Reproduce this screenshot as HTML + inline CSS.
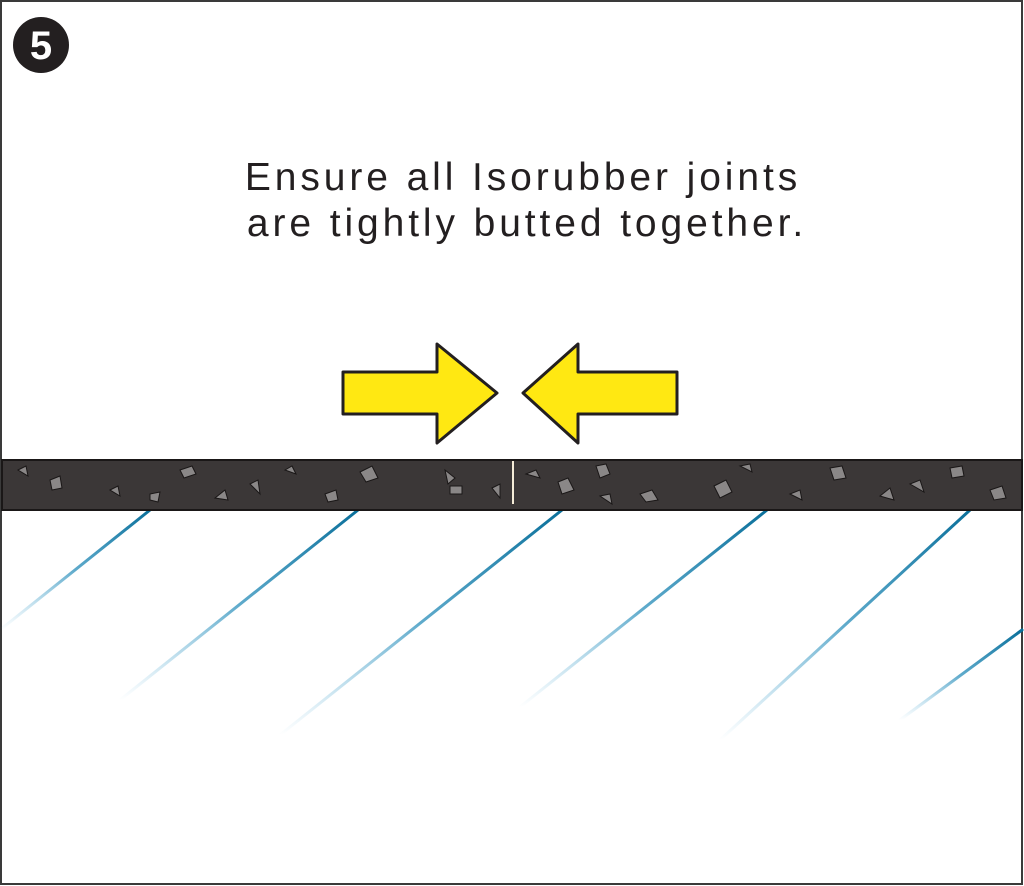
<!DOCTYPE html>
<html><head><meta charset="utf-8"><style>
html,body{margin:0;padding:0;background:#fff}
svg{display:block}
</style></head><body>
<svg width="1024" height="886" viewBox="0 0 1024 886" xmlns="http://www.w3.org/2000/svg">
<defs>
<linearGradient id="g" x1="0" y1="0" x2="0" y2="1">
<stop offset="0" stop-color="#0a6f9a" stop-opacity="1"/>
<stop offset="0.5" stop-color="#1a86b5" stop-opacity="0.7"/>
<stop offset="1" stop-color="#5ab0d8" stop-opacity="0"/>
</linearGradient>
</defs>
<rect x="0" y="0" width="1024" height="886" fill="#fff"/>
<rect x="1" y="1" width="1021" height="883" fill="none" stroke="#3a3a3a" stroke-width="2"/>
<circle cx="41" cy="45" r="28" fill="#231f20"/>
<text x="41" y="59" font-family="Liberation Sans, sans-serif" font-weight="bold" font-size="40" fill="#fff" text-anchor="middle">5</text>
<text x="523" y="190" font-family="Liberation Sans, sans-serif" font-size="39" fill="#231f20" text-anchor="middle" letter-spacing="3.9">Ensure all Isorubber joints</text>
<text x="527" y="236" font-family="Liberation Sans, sans-serif" font-size="39" fill="#231f20" text-anchor="middle" letter-spacing="3.9">are tightly butted together.</text>
<polygon points="343,372 437,372 437,344 497,393 437,443 437,414 343,414" fill="#ffe812" stroke="#231f20" stroke-width="3" stroke-linejoin="round"/>
<polygon points="677,372 578,372 578,344 523,393 578,443 578,414 677,414" fill="#ffe812" stroke="#231f20" stroke-width="3" stroke-linejoin="round"/>
<g stroke-width="3" fill="none" stroke-linecap="round">
<path d="M150 510 L0 630" stroke="url(#g)"/>
<path d="M358 510 L120 700" stroke="url(#g)"/>
<path d="M562 510 L280 735" stroke="url(#g)"/>
<path d="M767 510 L520 707" stroke="url(#g)"/>
<path d="M970 510 L720 740" stroke="url(#g)"/>
<path d="M1022 630 L900 720" stroke="url(#g)"/>
</g>
<rect x="2" y="460" width="1020" height="50" fill="#3b3737" stroke="#1a1717" stroke-width="2"/>
<g fill="#8a8787" stroke="#1a1717" stroke-width="1">
<polygon points="50,480 60,476 62,488 52,490"/>
<polygon points="110,490 118,486 120,496"/>
<polygon points="150,494 160,492 158,502 150,500"/>
<polygon points="180,470 192,466 196,474 184,478"/>
<polygon points="215,498 225,490 228,500"/>
<polygon points="285,470 292,466 296,474"/>
<polygon points="325,494 336,490 338,500 328,502"/>
<polygon points="360,472 372,466 378,478 366,482"/>
<polygon points="445,470 455,478 448,484"/>
<polygon points="450,486 462,486 462,494 450,494"/>
<polygon points="492,488 500,484 500,498"/>
<polygon points="526,474 536,470 540,478"/>
<polygon points="558,482 568,478 574,490 562,494"/>
<polygon points="596,466 606,464 610,474 600,478"/>
<polygon points="640,494 652,490 658,500 646,502"/>
<polygon points="714,486 726,480 732,492 720,498"/>
<polygon points="740,466 750,464 752,472"/>
<polygon points="790,494 800,490 802,500"/>
<polygon points="830,468 842,466 846,478 834,480"/>
<polygon points="880,496 890,488 894,500"/>
<polygon points="910,484 920,480 924,492"/>
<polygon points="950,468 962,466 964,476 952,478"/>
<polygon points="990,490 1002,486 1006,498 994,500"/>
<polygon points="18,470 26,466 28,476"/>
<polygon points="250,484 258,480 260,494"/>
<polygon points="600,496 610,494 612,504"/>
</g>
<line x1="513" y1="461" x2="513" y2="504" stroke="#f5ecd8" stroke-width="2"/>
</svg>
</body></html>
